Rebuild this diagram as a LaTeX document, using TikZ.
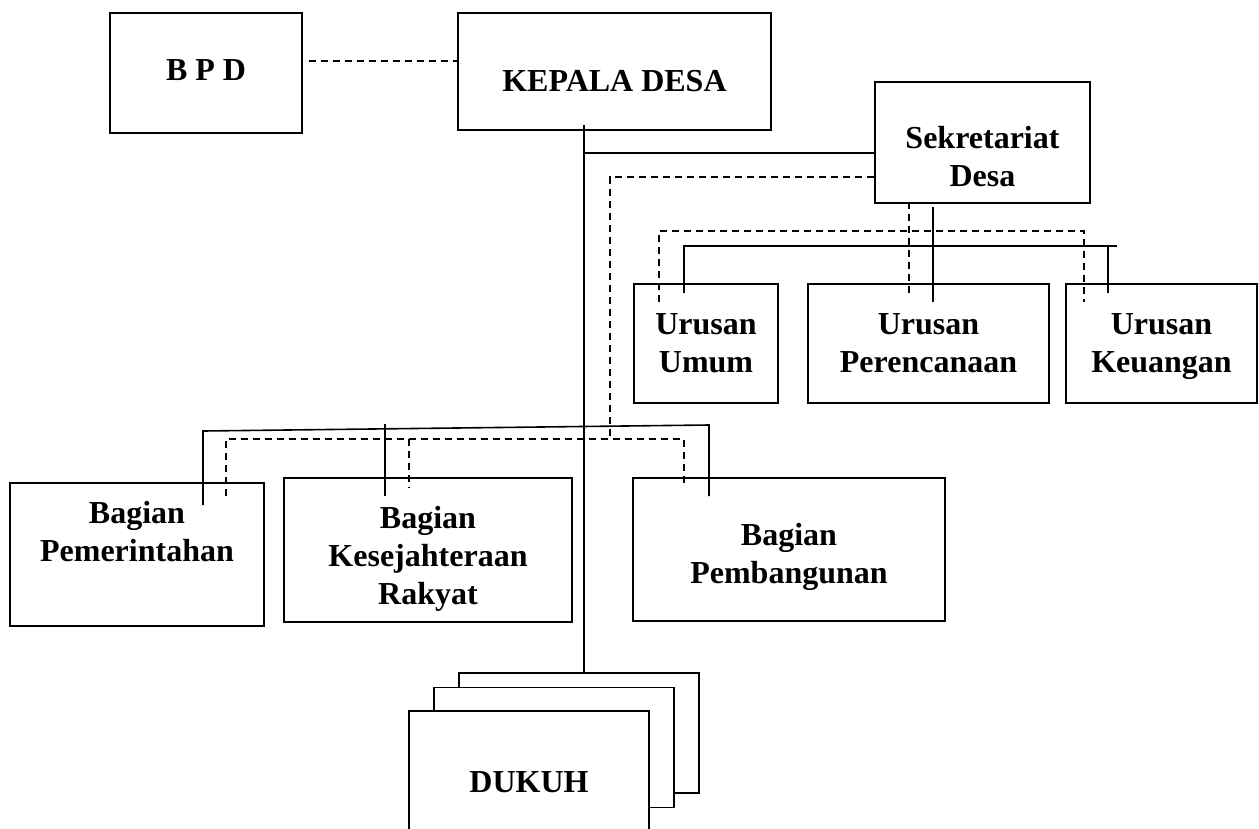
\documentclass[tikz,border=0pt]{standalone}
\usepackage{fontspec}
\setmainfont{Liberation Serif}

% move a (multi-line) label up or down inside its box
\newcommand{\nudge}[2]{\raisebox{#1}[\height][\depth]{\begin{tabular}{@{}c@{}}#2\end{tabular}}}

\begin{document}
\begin{tikzpicture}[
    x=1pt, y=-1pt,
    font=\fontsize{32}{38}\selectfont\bfseries,
    unit/.style={draw, line width=1.6pt, align=center, inner sep=0pt},
    stack/.style={unit, fill=white, minimum width=240pt, minimum height=120pt},
    command/.style={line width=1.6pt},
    coordination/.style={line width=1.4pt, dash pattern=on 7pt off 5pt},
]

\useasboundingbox (0,0) rectangle (1259,828);
\clip (0,0) rectangle (1259,828);

% --- boxes ---
\node[unit, minimum width=192pt, minimum height=120pt] (bpd)   at (206,73)      {\nudge{0pt}{B P D}};
\node[unit, minimum width=313pt, minimum height=117pt] (kd)    at (614.5,71.5)  {\nudge{-12.5pt}{KEPALA DESA}};
\node[unit, minimum width=215pt, minimum height=121pt] (sek)   at (982.5,142.5) {\nudge{-17pt}{Sekretariat\\ Desa}};
\node[unit, minimum width=144pt, minimum height=119pt] (umum)  at (706,343.5)   {\nudge{-2pt}{Urusan\\ Umum}};
\node[unit, minimum width=241pt, minimum height=119pt] (renc)  at (928.5,343.5) {\nudge{-2pt}{Urusan\\ Perencanaan}};
\node[unit, minimum width=191pt, minimum height=119pt] (uang)  at (1161.5,343.5){\nudge{-2pt}{Urusan\\ Keuangan}};
\node[unit, minimum width=254pt, minimum height=143pt] (pem)   at (137,554.5)   {\nudge{19.5pt}{Bagian\\ Pemerintahan}};
\node[unit, minimum width=288pt, minimum height=144pt] (kesra) at (428,550)     {\nudge{-8.5pt}{Bagian\\ Kesejahteraan\\ Rakyat}};
\node[unit, minimum width=312pt, minimum height=143pt] (bang)  at (789,549.5)   {\nudge{-7pt}{Bagian\\ Pembangunan}};

% dukuh (stacked)
\node[stack] (dk3) at (579,733)   {};
\node[stack] (dk2) at (554,747.5) {};
\node[stack] (dk1) at (529,771)   {\nudge{-14pt}{DUKUH}};

% --- line of command ---
\coordinate (top)   at (584,125);
\coordinate (toSek) at (584,153);
\draw[command] (top) -- (top |- dk3.north);
\draw[command] (toSek) -- (toSek -| sek.west);

\coordinate (sekS)  at (933,207);
\coordinate (busU)  at (684,246);
\coordinate (busUe) at (1117,246);
\coordinate (busUk) at (1108,246);
\draw[command, shorten >=-19pt] (sekS) -- (sekS |- renc.north);
\draw[command, shorten <=-10pt] (busU |- umum.north) -- (busU) -- (busUe);
\draw[command, shorten >=-10pt] (busUk) -- (busUk |- uang.north);

\coordinate (busBL) at (203,431);
\coordinate (busBR) at (709,425);
\coordinate (busBK) at (385,424);
\draw[command, shorten <=-23pt, shorten >=-19pt] (busBL |- pem.north) -- (busBL) -- (busBR) -- (busBR |- bang.north);
\draw[command, shorten >=-19pt] (busBK) -- (busBK |- kesra.north);

% --- line of coordination ---
\coordinate (bpdD) at (309,61);
\draw[coordination] (bpdD) -- (bpdD -| kd.west);

\coordinate (sekD)  at (909,202);
\coordinate (dbusL) at (659,231);
\coordinate (dbusR) at (1084,231);
\draw[coordination, shorten >=-13pt] (sekD) -- (sekD |- renc.north);
\draw[coordination, shorten <=-19pt, shorten >=-19pt] (dbusL |- umum.north) -- (dbusL) -- (dbusR) -- (dbusR |- uang.north);

\coordinate (dturn) at (610,177);
\coordinate (dhub)  at (610,439);
\draw[coordination] (sek.west |- dturn) -- (dturn) -- (dhub);

\coordinate (dbusBL) at (226,439);
\coordinate (dbusBR) at (684,439);
\coordinate (dbusBK) at (409,439);
\draw[coordination, shorten <=-14pt, shorten >=-10pt] (dbusBL |- pem.north) -- (dbusBL) -- (dbusBR) -- (dbusBR |- bang.north);
\draw[coordination, shorten >=-10pt] (dbusBK) -- (dbusBK |- kesra.north);

\end{tikzpicture}
\end{document}
